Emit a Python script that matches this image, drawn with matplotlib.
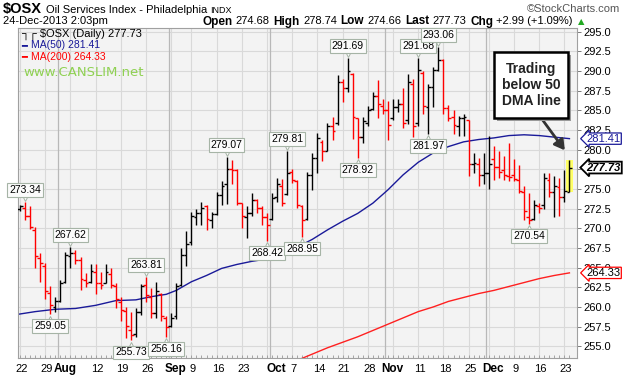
import matplotlib
matplotlib.use('Agg')
import matplotlib.pyplot as plt
import numpy as np
from matplotlib.collections import LineCollection
from matplotlib.patches import Rectangle
import matplotlib.transforms as mtransforms

plt.rcParams['font.family'] = ['Liberation Sans', 'DejaVu Sans']

# ---------------- data (daily OHLC, 22-Jul-2013 .. 24-Dec-2013) ----------------
opens = [272.5, 272.6, 271.6, 269.8, 266.2, 265.2, 261.8, 260.0, 260.8, 263.2,
         266.5, 266.8, 266.0, 263.4, 263.2, 264.4, 263.0, 263.0, 264.2, 262.6,
         260.6, 259.5, 257.0, 256.6, 259.4, 262.8, 261.2, 259.2, 261.6, 258.6,
         257.6, 258.8, 262.8, 266.6, 268.2, 271.4, 272.0, 272.8, 271.0, 271.8,
         274.2, 275.6, 277.6, 277.4, 273.2, 271.4, 272.0, 273.6, 272.6, 271.4,
         271.2, 274.0, 275.4, 274.4, 277.2, 276.0, 272.8, 271.2, 276.8, 279.0,
         281.0, 279.8, 283.0, 283.4, 288.6, 287.8, 289.6, 284.0, 281.6, 283.4,
         285.2, 286.8, 285.6, 285.0, 284.0, 285.4, 285.8, 283.8, 288.4, 283.4,
         289.8, 285.4, 288.0, 290.2, 291.4, 285.3, 284.2, 283.0, 284.0, 283.8,
         278.2, 278.2, 276.8, 277.0, 278.8, 277.8, 277.4, 276.6, 276.8, 276.2,
         274.6, 271.4, 271.2, 272.8, 273.0, 276.2, 274.6, 275.2, 274.0, 274.68]
highs = [273.0, 273.34, 272.9, 270.2, 266.8, 265.6, 262.6, 261.2, 263.4, 267.0,
         267.62, 267.2, 266.3, 264.3, 265.5, 265.4, 264.4, 265.4, 265.0, 263.0,
         261.2, 260.0, 259.4, 259.8, 262.9, 263.81, 262.4, 263.2, 261.8, 258.8,
         259.2, 263.0, 267.5, 269.6, 272.1, 272.5, 273.3, 273.0, 272.1, 274.6,
         276.0, 279.07, 278.7, 277.6, 273.2, 272.9, 274.5, 273.7, 272.9, 271.9,
         274.5, 276.4, 276.3, 279.81, 277.6, 276.2, 273.0, 277.2, 279.6, 282.1,
         281.3, 283.4, 284.2, 289.5, 289.0, 291.69, 289.8, 284.0, 284.2, 285.6,
         287.3, 288.9, 286.4, 286.2, 286.4, 286.5, 287.8, 289.6, 289.0, 291.68,
         290.0, 288.4, 290.5, 293.06, 291.6, 285.7, 285.0, 284.3, 284.5, 283.8,
         279.6, 279.0, 279.6, 281.8, 280.5, 279.9, 279.2, 280.9, 278.8, 278.0,
         275.4, 274.5, 273.6, 273.2, 277.0, 277.0, 276.6, 276.4, 277.4, 278.74]
lows = [272.2, 271.0, 269.9, 265.0, 263.2, 261.0, 259.05, 259.4, 260.6, 263.0,
        264.9, 265.4, 262.2, 262.5, 263.0, 261.6, 262.3, 263.0, 262.4, 259.8,
        258.2, 256.0, 255.73, 256.2, 259.0, 260.6, 258.6, 258.6, 258.2, 256.16,
        257.4, 258.4, 262.6, 265.2, 267.9, 270.4, 270.4, 269.8, 270.0, 271.7,
        273.0, 273.1, 275.6, 273.0, 270.1, 268.8, 271.6, 272.0, 270.4, 268.42,
        271.0, 273.3, 272.9, 274.3, 275.8, 272.6, 268.95, 271.0, 274.9, 277.0,
        278.6, 279.8, 281.3, 283.2, 286.1, 287.3, 281.4, 278.92, 280.9, 283.0,
        285.0, 284.0, 284.6, 281.2, 283.8, 284.8, 282.8, 283.3, 281.6, 283.0,
        284.6, 281.97, 285.4, 290.0, 284.6, 283.6, 282.0, 281.8, 281.8, 276.6,
        277.1, 275.4, 275.6, 275.0, 276.2, 276.4, 276.2, 276.0, 276.0, 274.5,
        271.1, 270.54, 271.0, 272.0, 272.4, 274.0, 271.5, 271.6, 273.4, 274.66]
closes = [272.8, 271.6, 270.2, 266.5, 265.6, 262.0, 260.2, 260.8, 263.0, 266.6,
          266.8, 266.0, 263.6, 263.0, 264.6, 263.0, 262.8, 264.4, 262.8, 261.0,
          259.6, 257.6, 256.4, 259.4, 262.6, 261.5, 259.2, 262.0, 258.8, 257.4,
          258.6, 262.6, 266.6, 268.0, 271.6, 272.0, 272.6, 271.2, 271.8, 274.2,
          275.4, 277.6, 277.4, 273.2, 271.6, 272.0, 273.6, 272.6, 271.5, 270.4,
          273.9, 275.6, 273.2, 277.0, 276.2, 273.0, 271.0, 276.8, 279.0, 281.5,
          279.8, 283.0, 282.4, 288.6, 287.9, 290.0, 284.2, 281.6, 283.6, 285.0,
          286.8, 285.8, 285.0, 283.2, 285.4, 285.8, 283.4, 288.6, 283.0, 290.2,
          285.6, 288.0, 290.2, 291.4, 285.3, 284.0, 283.2, 284.0, 284.2, 278.2,
          278.3, 276.8, 277.0, 278.2, 277.8, 277.2, 276.8, 276.5, 276.3, 274.8,
          272.2, 271.0, 273.0, 272.6, 276.4, 274.6, 275.4, 274.0, 274.74, 277.73]

ma50_x = [-1, 3, 7, 11, 15, 19, 23, 26, 29, 31, 34, 37, 40, 43, 46, 49, 52, 55,
          58, 61, 64, 67, 70, 73, 76, 79, 82, 85, 88, 91, 94, 97, 100, 103, 106, 109]
ma50_v = [259.0, 259.4, 259.7, 259.8, 260.2, 260.8, 260.9, 261.3, 261.6, 262.1,
          263.2, 264.0, 264.9, 265.4, 265.8, 266.1, 266.6, 267.6, 268.6, 269.8,
          270.9, 271.9, 273.2, 274.9, 276.8, 278.4, 279.6, 280.4, 281.0, 281.3,
          281.5, 281.8, 281.9, 281.8, 281.6, 281.41]
ma200_x = [55, 58, 61, 64, 67, 70, 73, 76, 79, 82, 85, 88, 91, 94, 97, 100, 103, 106, 109]
ma200_v = [253.2, 254.0, 254.8, 255.5, 256.2, 257.0, 257.8, 258.6, 259.4, 260.0,
           260.7, 261.2, 261.7, 262.1, 262.6, 263.1, 263.6, 264.0, 264.33]

xtick_pos = [0, 5, 8, 15, 20, 25, 30, 34, 39, 44, 50, 54, 59, 64, 69, 73, 79, 84, 89, 93, 98, 103, 108]
xtick_lab = ['22', '29', 'Aug', '12', '19', '26', 'Sep', '9', '16', '23', 'Oct', '7', '14',
             '21', '28', 'Nov', '11', '18', '25', 'Dec', '9', '16', '23']
week_grid = [0, 5, 10, 15, 20, 25, 30, 34, 39, 44, 49, 54, 59, 64, 69, 74, 79, 84, 89, 93, 98, 103, 108]
month_grid = [8, 30, 50, 73, 93]
months = {'Aug', 'Sep', 'Oct', 'Nov', 'Dec'}

high_marks = [1, 10, 25, 41, 53, 65, 79, 83]
low_marks = [6, 22, 29, 49, 56, 67, 81, 101]

last_close = closes[-1]
ma50_last = ma50_v[-1]
ma200_last = ma200_v[-1]

# ---------------- figure ----------------
W, H = 623, 376
fig = plt.figure(figsize=(W / 100, H / 100), dpi=100)
fig.patch.set_facecolor('white')
L, R, T, B = 18, 577, 27.5, 358
ax = fig.add_axes([L / W, 1 - B / H, (R - L) / W, (B - T) / H])
ax.set_facecolor('#f3f3f3')
n = len(closes)
ax.set_xlim(-0.4, 110.5)
ax.set_ylim(253.5, 295.55)

yt = np.arange(255.0, 295.01, 2.5)
for v in yt:
    ax.axhline(v, color='#d9d9d9', lw=0.8, zorder=0)
for g in week_grid:
    ax.axvline(g, color='#d9d9d9', lw=0.8, zorder=0)
for g in month_grid:
    ax.axvline(g - 0.5, color='#b8b8b8', lw=0.9, zorder=0)

# yellow highlight behind the last bar
ax.add_patch(Rectangle((n - 1 - 0.75, lows[-1]), 1.5, highs[-1] - lows[-1],
                       facecolor='#ffff66', edgecolor='none', zorder=1))

# OHLC bars
segs, cols = [], []
for i in range(n):
    c = 'black' if (i == 0 or closes[i] >= closes[i - 1]) else '#ff0000'
    segs += [[(i, lows[i]), (i, highs[i])],
             [(i - 0.55, opens[i]), (i, opens[i])],
             [(i, closes[i]), (i + 0.55, closes[i])]]
    cols += [c, c, c]
ax.add_collection(LineCollection(segs, colors=cols, linewidths=1.0, zorder=3))

# moving averages
ax.plot(ma50_x, ma50_v, color='#1a1a99', lw=1.0, zorder=2)
ax.plot(ma200_x, ma200_v, color='#ff2020', lw=1.0, zorder=2)

# high / low labels
up = mtransforms.offset_copy(ax.transData, fig=fig, x=0, y=3, units='points')
dn = mtransforms.offset_copy(ax.transData, fig=fig, x=0, y=-3, units='points')
bb = dict(boxstyle='square,pad=0.18', fc='#fbfbfb', ec='#a6b4a6', lw=0.8)
for i in high_marks:
    ax.plot([i], [highs[i]], marker='v', ms=4, mfc='#fbfbfb', mec='#a6b4a6', mew=0.7,
            transform=up, zorder=4, clip_on=False)
    ax.annotate(f"{highs[i]:.2f}", xy=(i, highs[i]), xytext=(0, 5), textcoords='offset points',
                ha='center', va='bottom', fontsize=7.5, bbox=bb, zorder=5)
for i in low_marks:
    ax.plot([i], [lows[i]], marker='^', ms=4, mfc='#fbfbfb', mec='#a6b4a6', mew=0.7,
            transform=dn, zorder=4, clip_on=False)
    ax.annotate(f"{lows[i]:.2f}", xy=(i, lows[i]), xytext=(0, -5), textcoords='offset points',
                ha='center', va='top', fontsize=7.5, bbox=bb, zorder=5)

# axes styling
ax.yaxis.tick_right()
ax.set_yticks(yt)
# the 277.5 label sits fully under the last-price box in the original, so it is not shown
ylabs = [("" if abs(v - last_close) < 0.6 else f"{v:.1f}") for v in yt]
ax.set_yticklabels(ylabs, fontsize=8)
ax.tick_params(axis='y', length=3, width=0.6, color='#666666', pad=1.5)

# x labels drawn as texts so that month names can sit slightly to the right
ax.set_xticks([])
ax.set_xticks(range(n), minor=True)
ax.tick_params(axis='x', which='minor', length=2, direction='in', color='#999999',
               labelbottom=False)
xtrans = mtransforms.blended_transform_factory(ax.transData, ax.transAxes)
for p, lab in zip(xtick_pos, xtick_lab):
    if lab in months:
        tr = mtransforms.offset_copy(xtrans, fig=fig, x=4.5, y=0, units='dots')
        ax.text(p, -0.034, lab, transform=tr, fontsize=8.5, fontweight='bold',
                ha='center', va='center', clip_on=False)
    else:
        tr = mtransforms.offset_copy(xtrans, fig=fig, x=1.5, y=0, units='dots')
        ax.text(p, -0.034, lab, transform=tr, fontsize=8, ha='center', va='center',
                clip_on=False)
for s in ax.spines.values():
    s.set_color('#a0a0a0')
    s.set_linewidth(0.8)

# right-side value boxes (they partly cover neighbouring tick labels, as in the original)
trans = mtransforms.blended_transform_factory(ax.transAxes, ax.transData)
ax.text(1.017, ma50_last, f"{ma50_last:.2f}", transform=trans, fontsize=8, color='#1a1a99',
        va='center', ha='left', zorder=6,
        bbox=dict(boxstyle='larrow,pad=0.06', fc='white', ec='#1a1a99', lw=0.9))
ax.text(1.017, last_close, f"{last_close:.2f}", transform=trans, fontsize=8, color='black',
        fontweight='bold', fontstyle='italic', va='center', ha='left', zorder=6,
        bbox=dict(boxstyle='larrow,pad=0.08', fc='white', ec='black', lw=1.3))
ax.text(1.017, ma200_last, f"{ma200_last:.2f}", transform=trans, fontsize=8, color='black',
        va='center', ha='left', zorder=6,
        bbox=dict(boxstyle='larrow,pad=0.06', fc='white', ec='#ff0000', lw=0.9))

# in-plot legend
def axf(px, py):
    return ((px - L) / (R - L), (B - py) / (B - T))

x0, y0 = axf(21, 34)
ax.text(x0, y0, "\u2510\u250c $OSX (Daily) " + f"{last_close:.2f}", transform=ax.transAxes,
        fontsize=8, va='center', ha='left', color='black')
x0, y0 = axf(21, 45.5)
ax.text(x0, y0, "\u2501", transform=ax.transAxes, fontsize=7, va='center', ha='left', color='#1a1a99',
        family='DejaVu Sans')
ax.text(x0 + 0.017, y0, f"MA(50) {ma50_last:.2f}", transform=ax.transAxes, fontsize=7.5,
        va='center', ha='left', color='#1a1a99')
x0, y0 = axf(21, 56.5)
ax.text(x0, y0, "\u2501", transform=ax.transAxes, fontsize=7, va='center', ha='left', color='#ff0000',
        family='DejaVu Sans')
ax.text(x0 + 0.017, y0, f"MA(200) {ma200_last:.2f}", transform=ax.transAxes, fontsize=7.5,
        va='center', ha='left', color='#ff0000')
x0, y0 = axf(23, 72.5)
ax.text(x0, y0, "www.CANSLIM.net", transform=ax.transAxes, fontsize=9.5, va='center',
        ha='left', color='#8fd152', family='DejaVu Sans')

# annotation box with arrow
ax.annotate("", xy=(n - 1.6, highs[-1] + 0.9), xytext=(103.2, 284.2),
            arrowprops=dict(arrowstyle='-|>,head_length=0.6,head_width=0.35', color='#333333',
                            lw=2.0), zorder=6)
bx, by = axf(494, 118)
bw = 74 / (R - L)
bh = 66 / (B - T)
ax.add_patch(Rectangle((bx + 0.005, by - 0.008), bw, bh, transform=ax.transAxes,
                       facecolor='#9a9a9a', edgecolor='none', zorder=6))
ax.add_patch(Rectangle((bx, by), bw, bh, transform=ax.transAxes, facecolor='white',
                       edgecolor='black', lw=1.8, zorder=7))
ax.text(bx + bw / 2, by + bh / 2, "Trading\nbelow 50\nDMA line", transform=ax.transAxes,
        fontsize=10, fontweight='bold', ha='center', va='center', linespacing=1.15,
        color='#222222', zorder=8)

# ---------------- header ----------------
fig.canvas.draw()
rend = fig.canvas.get_renderer()


def chain(pieces, x_px, y_px, align='left', gap=3.5):
    arts = [fig.text(0, 1 - y_px / H, s, va='baseline', ha='left', **kw) for s, kw in pieces]
    widths = [a.get_window_extent(rend).width for a in arts]
    total = sum(widths) + gap * (len(arts) - 1)
    x = x_px if align == 'left' else x_px - total
    for a, w in zip(arts, widths):
        a.set_x(x / W)
        x += w + gap


chain([("$OSX", dict(fontsize=10.5, fontweight='bold')),
       ("Oil Services Index - Philadelphia", dict(fontsize=8)),
       ("INDX", dict(fontsize=6.5))], 3, 13)
fig.text(620 / W, 1 - 12.5 / H, "\u00a9StockCharts.com", fontsize=8, color='#555555',
         ha='right', va='baseline')
fig.text(3 / W, 1 - 24.5 / H, "24-Dec-2013 2:03pm", fontsize=8, ha='left', va='baseline')
chain([("Open", dict(fontsize=8.5, fontweight='bold')), (f"{opens[-1]:.2f}", dict(fontsize=8)),
       ("High", dict(fontsize=8.5, fontweight='bold')), (f"{highs[-1]:.2f}", dict(fontsize=8)),
       ("Low", dict(fontsize=8.5, fontweight='bold')), (f"{lows[-1]:.2f}", dict(fontsize=8)),
       ("Last", dict(fontsize=8.5, fontweight='bold')), (f"{closes[-1]:.2f}", dict(fontsize=8)),
       ("Chg", dict(fontsize=8.5, fontweight='bold')),
       (f"+{closes[-1] - closes[-2]:.2f} (+{(closes[-1] / closes[-2] - 1) * 100:.2f}%)",
        dict(fontsize=8))], 573, 24.5, align='right')
fig.text(578 / W, 1 - 24.5 / H, "\u25b2", fontsize=6, color='#22aa22', ha='left', va='baseline',
         family='DejaVu Sans')

fig.savefig('out.png', dpi=100)
